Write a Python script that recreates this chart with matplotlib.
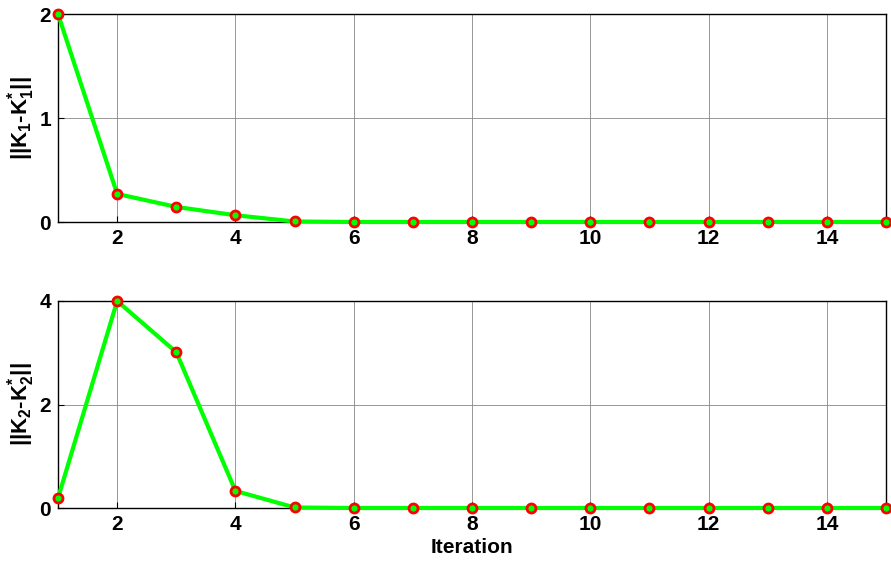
import matplotlib
matplotlib.use("Agg")
import matplotlib.pyplot as plt

# Iteration history of the gain errors
iterations = list(range(1, 16))
k1_error = [2.0, 0.27, 0.145, 0.065, 0.005, 0.0, 0.0, 0.0, 0.0, 0.0, 0.0, 0.0, 0.0, 0.0, 0.0]
k2_error = [0.19, 4.0, 3.01, 0.33, 0.01, 0.0, 0.0, 0.0, 0.0, 0.0, 0.0, 0.0, 0.0, 0.0, 0.0]
x_ticks = [2, 4, 6, 8, 10, 12, 14]
k1_yticks = [0, 1, 2]
k2_yticks = [0, 2, 4]

plt.rcParams['font.family'] = ['Liberation Sans', 'DejaVu Sans']
plt.rcParams['font.weight'] = 'bold'
plt.rcParams['mathtext.fontset'] = 'custom'
plt.rcParams['mathtext.rm'] = 'Liberation Sans:bold'
plt.rcParams['mathtext.it'] = 'Liberation Sans:bold'
plt.rcParams['mathtext.bf'] = 'Liberation Sans:bold'

W, H = 891, 571
fig = plt.figure(figsize=(W / 100, H / 100), dpi=100)
ax1 = fig.add_axes([58 / W, (H - 222) / H, 828 / W, 208 / H])
ax2 = fig.add_axes([58 / W, (H - 508) / H, 828 / W, 207 / H])


def style(ax, yticks, ylim):
    ax.set_xlim(1, 15)
    ax.set_ylim(*ylim)
    ax.set_xticks(x_ticks)
    ax.set_yticks(yticks)
    ax.grid(True, color='#888888', linewidth=0.6, linestyle='-')
    ax.tick_params(direction='in', length=4, width=0.8, labelsize=15, pad=5)
    for lab in ax.get_xticklabels() + ax.get_yticklabels():
        lab.set_fontweight('bold')
    for sp in ax.spines.values():
        sp.set_linewidth(1.0)
        sp.set_color('black')


for ax, data, yt, yl in ((ax1, k1_error, k1_yticks, (0, 2)),
                         (ax2, k2_error, k2_yticks, (0, 4))):
    ax.plot(iterations, data, color='#00ff00', linewidth=3.0,
            marker='o', markersize=6.5, markerfacecolor='#00ff00',
            markeredgecolor='#ff0000', markeredgewidth=2.0,
            clip_on=False, zorder=5)
    style(ax, yt, yl)

ax1.set_ylabel(r'||K$_{1}$-K$_{1}^{*}$||', fontsize=16, fontweight='bold')
ax2.set_ylabel(r'||K$_{2}$-K$_{2}^{*}$||', fontsize=16, fontweight='bold')
for ax in (ax1, ax2):
    ax.yaxis.set_label_coords(-0.025, 0.5)
ax2.set_xlabel('Iteration', fontsize=15, fontweight='bold', labelpad=3)

fig.savefig('out.png', dpi=100)
